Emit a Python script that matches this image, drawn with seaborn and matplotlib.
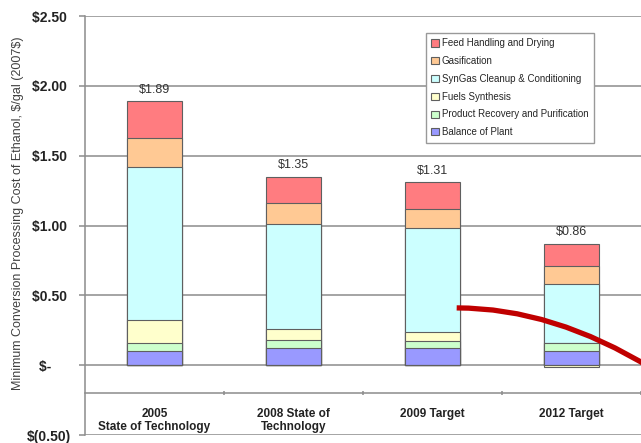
import numpy as np
import matplotlib
matplotlib.use("Agg")
import matplotlib.pyplot as plt
import seaborn as sns
from matplotlib.path import Path
from matplotlib.patches import PathPatch, Patch

# ---- data ($/gal, 2007$) ----
categories = ["2005\nState of Technology", "2008 State of\nTechnology",
              "2009 Target", "2012 Target"]
balance_of_plant = [0.10, 0.12, 0.12, 0.10]
product_recovery = [0.06, 0.06, 0.05, 0.06]
fuels_synthesis = [0.16, 0.08, 0.07, -0.01]
syngas_cleanup = [1.10, 0.75, 0.74, 0.42]
gasification = [0.21, 0.15, 0.14, 0.13]
feed_handling = [0.26, 0.19, 0.19, 0.16]

series_names = ["Balance of Plant", "Product Recovery and Purification",
                "Fuels Synthesis", "SynGas Cleanup & Conditioning",
                "Gasification", "Feed Handling and Drying"]
series_colors = ["#9999FF", "#CCFFCC", "#FFFFCC", "#CCFFFF", "#FFC994", "#FF7C80"]

ytick_values = [-0.5, 0.0, 0.5, 1.0, 1.5, 2.0, 2.5]
ytick_labels = ["$(0.50)", "$-     ", "$0.50 ", "$1.00 ", "$1.50 ", "$2.00 ", "$2.50 "]
ylabel_text = r"Minimum Conversion Processing Cost of Ethanol, \$/gal (2007\$)"

# ---- style ----
sns.set_theme(style="white")
plt.rcParams["font.family"] = ["Liberation Sans", "DejaVu Sans"]

GRID = "#8c8c8c"
EDGE = "#5f5f5f"

fig = plt.figure(figsize=(6.41, 4.43), dpi=100)
ax = fig.add_axes([85 / 641, 8 / 443, 1 - 85 / 641, 419 / 443])
AX_H = 419

values = np.array([balance_of_plant, product_recovery, fuels_synthesis,
                   syngas_cleanup, gasification, feed_handling])
positive = np.clip(values, 0, None)
negative = np.clip(values, None, 0)
stack_top = np.cumsum(positive, axis=0)

# stacked bars: draw cumulative heights from the tallest down
for i in range(len(series_names) - 1, -1, -1):
    sns.barplot(x=categories, y=stack_top[i], color=series_colors[i],
                saturation=1, width=0.4, edgecolor=EDGE, linewidth=0.8,
                errorbar=None, ax=ax, zorder=3)

# components below zero
neg_idx = [i for i in range(len(series_names)) if (negative[i] < 0).any()]
for i in neg_idx:
    sns.barplot(x=categories, y=negative[i], color=series_colors[i],
                saturation=1, width=0.4, edgecolor=EDGE, linewidth=0.8,
                errorbar=None, ax=ax, zorder=3)

# total labels
totals = values.sum(axis=0)
for i, (tot, top) in enumerate(zip(totals, stack_top[-1])):
    ax.annotate(f"${tot:.2f}", (i, top), xytext=(0, 4), textcoords="offset points",
                ha="center", va="bottom", fontsize=9, color="#333333", zorder=5)

# axes limits and grid
ax.set_xlim(-0.5, 3.443)
ax.set_ylim(-0.5, 2.5)
ax.set_yticks(ytick_values)
ax.set_yticklabels(ytick_labels, fontsize=10, fontweight="bold", color="#222222")
ax.yaxis.grid(True, color=GRID, linewidth=1.1)
ax.xaxis.grid(False)
ax.set_axisbelow(True)

for side in ["top", "right"]:
    ax.spines[side].set_visible(False)
ax.spines["left"].set_color(GRID)
ax.spines["left"].set_linewidth(1.1)
ax.spines["bottom"].set_color(GRID)
ax.spines["bottom"].set_linewidth(1.1)
ax.spines["bottom"].set_position(("data", -0.2))

ax.tick_params(axis="y", which="major", left=True, length=4, width=1.1,
               color=GRID, pad=6)
ax.set_xticks(range(len(categories)))
ax.set_xticklabels(categories, fontsize=8.5, fontweight="bold", color="#222222",
                   linespacing=1.05)
ax.set_xticks(np.arange(len(categories)) + 0.5, minor=True)
ax.tick_params(axis="x", which="major", bottom=False, length=0, pad=11)
ax.tick_params(axis="x", which="minor", bottom=True, length=3, width=1.1,
               color=GRID, direction="inout")
ax.set_xlabel("")

ax.set_ylabel(ylabel_text, fontsize=9, color="#404040")
ax.yaxis.set_label_coords(-0.11, 0.53)

# legend, top series first
handles = [Patch(facecolor=c, edgecolor=EDGE, linewidth=0.8) for c in series_colors[::-1]]
leg = ax.legend(handles, series_names[::-1], loc="upper left",
                bbox_to_anchor=((426 - 85) / 556, (AX_H - 17) / AX_H),
                fontsize=7, frameon=True, fancybox=False, framealpha=1,
                edgecolor="#999999", handlelength=0.75, handleheight=0.75,
                handletextpad=0.3, labelspacing=0.8, borderpad=0.55,
                borderaxespad=0)
leg.get_frame().set_linewidth(1.0)
leg.set_zorder(6)

# red trend arc
arc = Path([(2.174, 0.41), (2.869, 0.41), (3.578, -0.024)],
           [Path.MOVETO, Path.CURVE3, Path.CURVE3])
ax.add_patch(PathPatch(arc, fill=False, edgecolor="#C00000", linewidth=3.8,
                       capstyle="butt", zorder=4))

fig.savefig("out.png", dpi=100)
